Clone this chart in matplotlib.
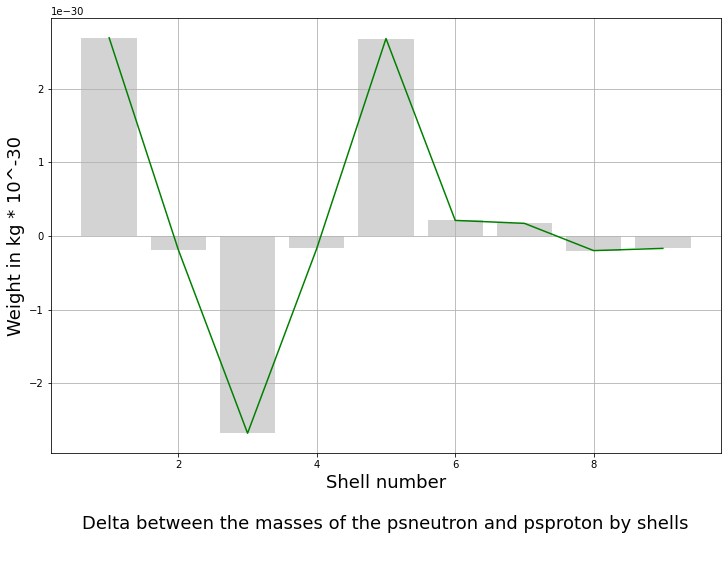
import matplotlib
matplotlib.use("Agg")
import matplotlib.pyplot as plt

shells = [1, 2, 3, 4, 5, 6, 7, 8, 9]
delta = [2.69, -0.19, -2.68, -0.17, 2.68, 0.21, 0.17, -0.20, -0.17]
scale = 1e-30

vals = [v * scale for v in delta]

fig = plt.figure(figsize=(727 / 72, 582 / 72), dpi=72)
ax = fig.add_axes([51 / 727, 1 - 453 / 582, 670 / 727, 435 / 582])
ax.bar(shells, vals, color="lightgray", width=0.8)
ax.plot(shells, vals, color="green")
ax.grid(True)
ax.set_xlabel("Shell number", fontsize=18)
ax.set_ylabel("Weight in kg * 10^-30", fontsize=18)
fig.text(0.53, 1 - 524 / 582, "Delta between the masses of the psneutron and psproton by shells",
         fontsize=18, ha="center", va="center")
fig.savefig("out.png", dpi=72)
